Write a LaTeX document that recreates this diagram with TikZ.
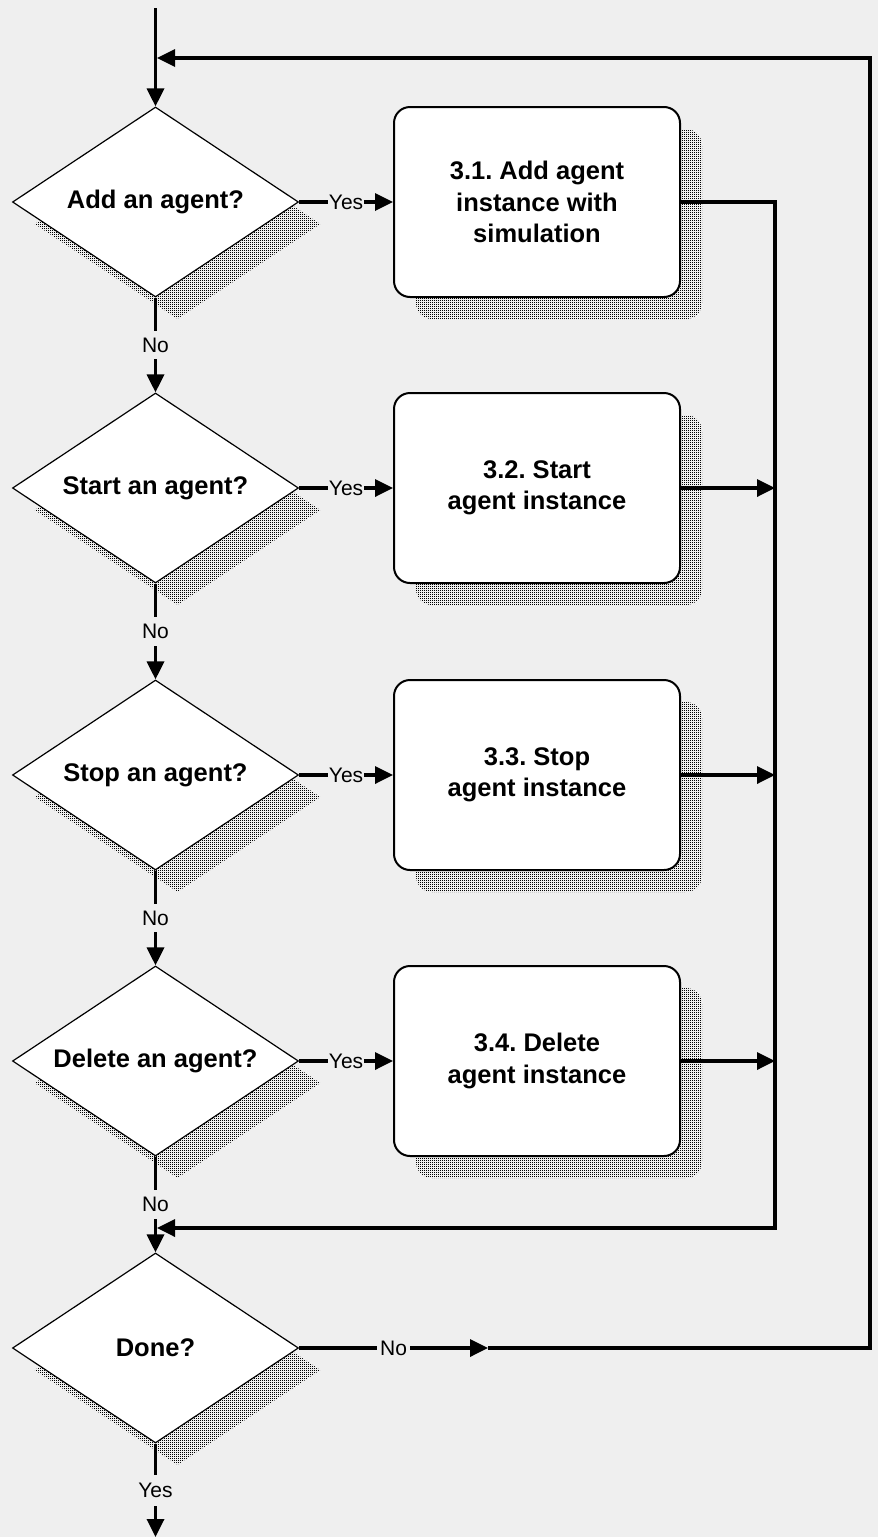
\documentclass[tikz,border=0pt]{standalone}
\usepackage{fontspec}
\setmainfont{Liberation Sans}
\usetikzlibrary{shapes.geometric, arrows.meta, shadows, patterns}

\definecolor{bg}{RGB}{239,239,239}

% fine dot screen used for the drop shadows
\pgfdeclarepatternformonly{shadowdots}
  {\pgfqpoint{0pt}{0pt}}{\pgfqpoint{2pt}{2pt}}{\pgfqpoint{2pt}{2pt}}
  {\pgfpathrectangle{\pgfqpoint{0pt}{0pt}}{\pgfqpoint{1.3pt}{1.3pt}}\pgfusepath{fill}}

\frenchspacing

\tikzset{
  dotshadow/.style={general shadow={shadow xshift=22pt, shadow yshift=-22pt,
      pattern=shadowdots, pattern color=black}},
  conn/.style={line width=3.4pt, line join=miter},
  arr/.style={-{Triangle[length=18pt,width=17pt]}},
  decision/.style={diamond, draw=black, line width=1.2pt, fill=white,
      minimum width=286pt, minimum height=190pt, inner sep=0pt, aspect=1.5,
      dotshadow, font=\bfseries\fontsize{25.5}{31.5}\selectfont},
  process/.style={rectangle, rounded corners=16pt, draw=black, line width=2pt,
      fill=white, minimum width=286pt, minimum height=190pt, align=center,
      dotshadow, font=\bfseries\fontsize{25.5}{31.5}\selectfont},
  lbl/.style={fill=bg, inner xsep=1pt, inner ysep=7pt,
      font=\fontsize{21}{24}\selectfont},
}

\begin{document}
\begin{tikzpicture}[x=1pt, y=-1pt]
  \fill[bg] (0,0) rectangle (878,1537);
  \useasboundingbox (0,0) rectangle (878,1537);

  % decisions
  \node[decision] (d1) at (155.5,202)  {\makebox[0pt]{Add an agent?}};
  \node[decision] (d2) at (155.5,488)  {\makebox[0pt]{Start an agent?}};
  \node[decision] (d3) at (155.5,775)  {\makebox[0pt]{Stop an agent?}};
  \node[decision] (d4) at (155.5,1061) {\makebox[0pt]{Delete an agent?}};
  \node[decision] (d5) at (155.5,1348) {\makebox[0pt]{Done?}};

  % actions
  \node[process] (b1) at (537,202)  {3.1. Add agent\\instance with\\simulation};
  \node[process] (b2) at (537,488)  {3.2. Start\\agent instance};
  \node[process] (b3) at (537,775)  {3.3. Stop\\agent instance};
  \node[process] (b4) at (537,1061) {3.4. Delete\\agent instance};

  % rails and loose ends
  \coordinate (entry)   at (155.5,8);
  \coordinate (exit)    at (155.5,1537);
  \coordinate (railtop) at (775,202);
  \coordinate (railbot) at (775,1228);
  \coordinate (merge)   at (157,1228);
  \coordinate (nomark)  at (488,1348);
  \coordinate (loopbr)  at (870,1348);
  \coordinate (looptr)  at (870,58);
  \coordinate (loopin)  at (157,58);

  % main flow
  \draw[conn, arr] (entry) -- (d1.north);
  \draw[conn, arr] (d1.south) -- node[lbl] {No} (d2.north);
  \draw[conn, arr] (d2.south) -- node[lbl] {No} (d3.north);
  \draw[conn, arr] (d3.south) -- node[lbl] {No} (d4.north);
  \draw[conn, arr] (d4.south) -- node[lbl] {No} (d5.north);
  \draw[conn, arr] (d5.south) -- node[lbl, inner ysep=8pt] {Yes} (exit);

  % yes branches
  \draw[conn, arr] (d1.east) -- node[lbl] {Yes} (b1.west);
  \draw[conn, arr] (d2.east) -- node[lbl] {Yes} (b2.west);
  \draw[conn, arr] (d3.east) -- node[lbl] {Yes} (b3.west);
  \draw[conn, arr] (d4.east) -- node[lbl] {Yes} (b4.west);

  % back to the merge point
  \draw[conn, arr] (b1.east) -- (railtop) -- (railbot) -- (merge);
  \draw[conn, arr] (b2.east) -- (b2.east -| railtop);
  \draw[conn, arr] (b3.east) -- (b3.east -| railtop);
  \draw[conn, arr] (b4.east) -- (b4.east -| railtop);

  % repeat loop
  \draw[conn, arr] (d5.east) -- node[lbl, inner xsep=3pt] {No} (nomark);
  \draw[conn, arr] (nomark) -- (loopbr) -- (looptr) -- (loopin);
\end{tikzpicture}
\end{document}
